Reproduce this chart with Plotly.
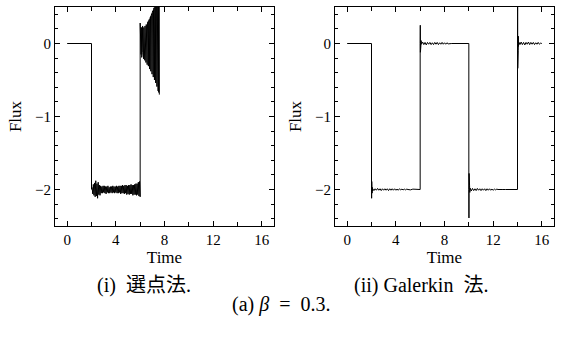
import plotly.graph_objects as go

# ---- (i) collocation method: flux vs time ----
coll_t_flat = [0.0, 2.0, 2.0]
coll_y_flat = [0.0, 0.0, -2.0]

coll_t_low = [2.05, 2.10, 2.15, 2.20, 2.25, 2.30, 2.35, 2.40, 2.45, 2.50,
              2.55, 2.60, 2.65, 2.70, 2.75, 2.80, 2.85, 2.90, 2.95, 3.00,
              3.05, 3.10, 3.15, 3.20, 3.25, 3.30, 3.35, 3.40, 3.45, 3.50,
              3.55, 3.60, 3.65, 3.70, 3.75, 3.80, 3.85, 3.90, 3.95, 4.00,
              4.05, 4.10, 4.15, 4.20, 4.25, 4.30, 4.35, 4.40, 4.45, 4.50,
              4.55, 4.60, 4.65, 4.70, 4.75, 4.80, 4.85, 4.90, 4.95, 5.00,
              5.05, 5.10, 5.15, 5.20, 5.25, 5.30, 5.35, 5.40, 5.45, 5.50,
              5.55, 5.60, 5.65, 5.70, 5.75, 5.80, 5.85, 5.90, 5.95, 6.00]
coll_y_low = [-1.97, -2.06, -1.93, -2.08, -1.91, -2.10, -1.88, -2.09, -1.92, -2.12,
              -1.90, -2.07, -1.94, -2.08, -1.95, -2.05, -1.96, -2.05, -1.95, -2.04,
              -1.95, -2.05, -1.96, -2.06, -1.96, -2.04, -1.95, -2.05, -1.97, -2.05,
              -1.96, -2.04, -1.96, -2.05, -1.95, -2.04, -1.96, -2.05, -1.96, -2.04,
              -1.95, -2.05, -1.96, -2.05, -1.95, -2.04, -1.95, -2.06, -1.95, -2.05,
              -1.94, -2.05, -1.95, -2.06, -1.94, -2.05, -1.94, -2.07, -1.95, -2.06,
              -1.94, -2.07, -1.94, -2.06, -1.93, -2.06, -1.94, -2.08, -1.94, -2.07,
              -1.93, -2.07, -1.92, -2.08, -1.92, -2.07, -1.90, -2.09, -1.89, -2.10]

coll_t_blow = [6.000, 6.025, 6.050, 6.075, 6.100, 6.125, 6.150, 6.175, 6.200, 6.225,
               6.250, 6.275, 6.300, 6.325, 6.350, 6.375, 6.400, 6.425, 6.450, 6.475,
               6.500, 6.525, 6.550, 6.575, 6.600, 6.625, 6.650, 6.675, 6.700, 6.725,
               6.750, 6.775, 6.800, 6.825, 6.850, 6.875, 6.900, 6.925, 6.950, 6.975,
               7.000, 7.025, 7.050, 7.075, 7.100, 7.125, 7.150, 7.175, 7.200, 7.225,
               7.250, 7.275, 7.300, 7.325, 7.350, 7.375, 7.400, 7.425, 7.450, 7.475,
               7.500, 7.525, 7.550, 7.575]
coll_y_blow = [0.28, -0.10, 0.26, -0.15, 0.22, -0.19, 0.20, -0.12, 0.24, -0.17,
               0.18, -0.21, 0.22, -0.15, 0.20, -0.23, 0.24, -0.20, 0.22, -0.26,
               0.26, -0.24, 0.25, -0.29, 0.28, -0.27, 0.30, -0.31, 0.31, -0.32,
               0.33, -0.35, 0.34, -0.36, 0.37, -0.38, 0.38, -0.40, 0.41, -0.42,
               0.43, -0.43, 0.45, -0.46, 0.47, -0.47, 0.49, -0.50, 0.52, -0.51,
               0.55, -0.54, 0.58, -0.55, 0.61, -0.59, 0.64, -0.61, 0.67, -0.65,
               0.70, -0.67, 0.74, -0.70]

# ---- (ii) Galerkin method: flux vs time ----
gal_t = [0.0, 2.0, 2.0, 2.01, 2.02, 2.03, 2.04, 2.05, 2.06, 2.08, 2.10,
         2.2, 2.3, 2.4, 2.5, 2.6, 2.7, 2.8, 2.9, 3.0, 3.1, 3.2, 3.3, 3.4, 3.5,
         3.6, 3.7, 3.8, 3.9, 4.0, 4.1, 4.2, 4.3, 4.4, 4.5, 4.6, 4.7, 4.8, 4.9,
         5.0, 5.2, 5.4, 5.6, 5.8, 6.0,
         6.0, 6.01, 6.02, 6.03, 6.04, 6.05, 6.06, 6.08, 6.10,
         6.2, 6.3, 6.4, 6.5, 6.6, 6.7, 6.8, 6.9, 7.0, 7.1, 7.2, 7.3, 7.4,
         7.5, 7.6, 7.7, 7.8, 7.9, 8.0, 8.1, 8.2, 8.3, 8.6, 9.0, 9.5, 10.0,
         10.0, 10.01, 10.02, 10.03, 10.04, 10.05, 10.06, 10.08, 10.10,
         10.2, 10.3, 10.4, 10.5, 10.6, 10.7, 10.8, 10.9, 11.0, 11.1, 11.2,
         11.3, 11.4, 11.5, 11.6, 11.7, 11.8, 11.9, 12.0, 12.1, 12.2, 12.3,
         12.4, 12.6, 12.8, 13.0, 13.5, 14.0,
         14.0, 14.01, 14.02, 14.03, 14.04, 14.05, 14.06, 14.07, 14.08, 14.10,
         14.2, 14.3, 14.4, 14.5, 14.6, 14.7, 14.8, 14.9, 15.0, 15.1, 15.2,
         15.3, 15.4, 15.5, 15.6, 15.7, 15.8, 15.9, 16.0]
gal_y = [0.0, 0.0, -2.0, -2.12, -1.89, -2.09, -1.93, -2.05, -1.97, -2.02, -1.99,
         -2.015, -1.99, -2.01, -1.985, -2.01, -1.99, -2.015, -1.99, -2.01, -1.99,
         -2.01, -1.99, -2.015, -1.99, -2.01, -1.99, -2.01, -1.99, -2.01, -1.995,
         -2.01, -1.99, -2.005, -1.995, -2.005, -1.995, -2.005, -1.995,
         -2.0, -2.005, -1.995, -2.0, -2.0, -2.0,
         0.0, 0.25, -0.12, 0.18, -0.07, 0.10, -0.03, 0.04, -0.01,
         0.02, -0.015, 0.015, -0.02, 0.015, -0.01, 0.015, -0.015, 0.01, -0.015,
         0.015, -0.01, 0.015, -0.015, 0.01, -0.01, 0.015, -0.01, 0.01, -0.01,
         0.01, -0.005, 0.0, 0.0, 0.0, 0.0,
         -2.0, -2.39, -1.78, -2.25, -1.88, -2.12, -1.94, -2.04, -1.98,
         -2.02, -1.985, -2.015, -1.99, -2.015, -1.985, -2.01, -1.99, -2.015,
         -1.99, -2.01, -1.99, -2.015, -1.99, -2.01, -1.99, -2.01, -1.995,
         -2.01, -1.995, -2.005, -1.995, -2.0, -2.005, -2.0, -2.0, -2.0,
         -2.0,
         0.0, 0.65, -0.34, 0.42, -0.22, 0.25, -0.10, 0.10, -0.04, 0.02,
         -0.015, 0.02, -0.015, 0.015, -0.02, 0.015, -0.01, 0.02, -0.015,
         0.015, -0.01, 0.015, -0.015, 0.01, -0.01, 0.015, -0.01, 0.005, 0.0]

x_range = [-1, 17]
y_range = [-2.5, 0.5]
x_ticks = [0, 4, 8, 12, 16]

FONT = "Liberation Serif, Times New Roman, serif"
CJK_FONT = FONT + ", Noto Sans CJK JP"
LINE = dict(color="black", width=1)

fig = go.Figure()
for xs, ys in [(coll_t_flat, coll_y_flat), (coll_t_low, coll_y_low),
               (coll_t_blow, coll_y_blow)]:
    fig.add_trace(go.Scatter(x=xs, y=ys, mode="lines", line=LINE,
                             xaxis="x", yaxis="y", showlegend=False))
# join the pieces of the collocation curve
fig.add_trace(go.Scatter(x=[coll_t_low[-1], coll_t_blow[0]],
                         y=[coll_y_low[-1], coll_y_blow[0]],
                         mode="lines", line=LINE, xaxis="x", yaxis="y",
                         showlegend=False))
fig.add_trace(go.Scatter(x=gal_t, y=gal_y, mode="lines", line=LINE,
                         xaxis="x2", yaxis="y2", showlegend=False))


def xaxis(domain, anchor):
    return dict(domain=domain, anchor=anchor, range=x_range,
                tickmode="array", tickvals=x_ticks,
                ticks="inside", ticklen=5, tickcolor="black", tickwidth=1,
                minor=dict(tickmode="linear", tick0=0, dtick=2, ticks="inside",
                           ticklen=4, tickcolor="black"),
                showline=True, linecolor="black", linewidth=1, mirror="allticks",
                showgrid=False, zeroline=False,
                tickfont=dict(family=FONT, size=15, color="black"),
                title=dict(text="Time", standoff=1,
                           font=dict(family=FONT, size=17, color="black")))


def yaxis(domain, anchor):
    return dict(domain=domain, anchor=anchor, range=y_range,
                tickmode="linear", tick0=0, dtick=1,
                ticks="inside", ticklen=5, tickcolor="black", tickwidth=1,
                minor=dict(tickmode="linear", tick0=0, dtick=0.2, ticks="inside",
                           ticklen=3, tickcolor="black"),
                showline=True, linecolor="black", linewidth=1, mirror="allticks",
                showgrid=False, zeroline=False,
                tickfont=dict(family=FONT, size=15, color="black"),
                title=dict(text="Flux", standoff=9,
                           font=dict(family=FONT, size=17, color="black")))


def caption(text, cx, cy):
    return dict(text=text, x=cx / W, y=1 - cy / H, xref="paper", yref="paper",
                showarrow=False, xanchor="center", yanchor="middle",
                font=dict(family=CJK_FONT, size=20, color="black"))


W, H = 563, 347
ydom = [1 - 226 / H, 1 - 7 / H]
fig.update_layout(
    width=W, height=H,
    margin=dict(l=0, r=0, t=0, b=0),
    paper_bgcolor="white", plot_bgcolor="white",
    xaxis=xaxis([55 / W, 274 / W], "y"),
    yaxis=yaxis(ydom, "x"),
    xaxis2=xaxis([335 / W, 554 / W], "y2"),
    yaxis2=yaxis(ydom, "x2"),
    annotations=[
        caption("(i)&nbsp; 選点法.", 143.5, 285),
        caption("(ii)&nbsp;Galerkin&nbsp; 法.", 421, 285),
        caption("(a) <i>β</i>&nbsp; =&nbsp; 0.3.", 281, 304),
    ],
)

fig.write_html("out.html")
